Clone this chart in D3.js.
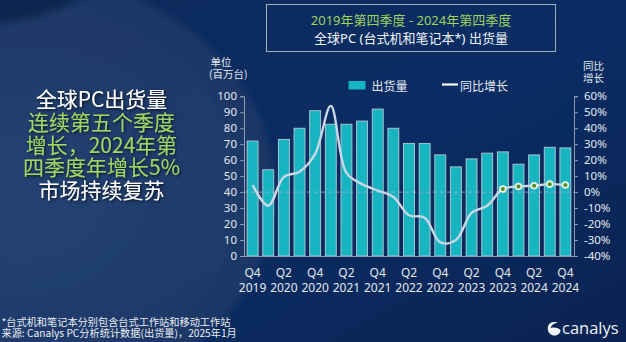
<!DOCTYPE html>
<html><head><meta charset="utf-8">
<script src="https://cdn.jsdelivr.net/npm/d3@7/dist/d3.min.js"></script>
<style>
html,body{margin:0;padding:0;background:#0b2a5c;}
svg{display:block;font-family:"Noto Sans","Noto Sans CJK SC",sans-serif;}
</style></head>
<body>
<svg id="c" width="626" height="342"></svg>
<script>
const quarters = ["Q4 2019","Q1 2020","Q2 2020","Q3 2020","Q4 2020","Q1 2021","Q2 2021","Q3 2021","Q4 2021","Q1 2022","Q2 2022","Q3 2022","Q4 2022","Q1 2023","Q2 2023","Q3 2023","Q4 2023","Q1 2024","Q2 2024","Q3 2024","Q4 2024"];
const shipments = [72, 54, 73, 80, 91, 82.5, 82.5, 84.5, 92, 80, 70.5, 70.5, 63.3, 55.8, 60.8, 64.4, 65.2, 57.5, 63.3, 68.1, 67.7];
const yoyGrowth = [4.5, -8.5, 9.5, 12.8, 24, 54, 12, 5, 1, -3, -14.5, -16, -31.5, -30, -13, -8.5, 2, 3.5, 4, 5, 4.5];
const markedFrom = 16;
const leftTicks = [0,10,20,30,40,50,60,70,80,90,100];
const rightTicks = [-40,-30,-20,-10,0,10,20,30,40,50,60];
const xLabelIdx = [0,2,4,6,8,10,12,14,16,18,20];
const titleLines = ["2019年第四季度 - 2024年第四季度","全球PC (台式机和笔记本*) 出货量"];
const headline = [["全球PC出货量","w"],["连续第五个季度","g"],["增长，2024年第","g"],["四季度年增长5%","g"],["市场持续复苏","w"]];
const footnotes = ["*台式机和笔记本分别包含台式工作站和移动工作站","来源: Canalys PC分析统计数据(出货量)，2025年1月"];

const svg = d3.select("#c");
const defs = svg.append("defs");
const bg = defs.append("linearGradient").attr("id","bg").attr("x1","0").attr("y1","0").attr("x2","1").attr("y2","1");
bg.append("stop").attr("offset","0").attr("stop-color","#0d2a5a");
bg.append("stop").attr("offset","0.5").attr("stop-color","#0b2d64");
bg.append("stop").attr("offset","1").attr("stop-color","#0a2352");
const lg = defs.append("radialGradient").attr("id","lg").attr("cx","0.5").attr("cy","0.5").attr("r","0.5");
lg.append("stop").attr("offset","0").attr("stop-color","#2c4a7a");
lg.append("stop").attr("offset","0.85").attr("stop-color","#253f6c");
lg.append("stop").attr("offset","1").attr("stop-color","#1f3a68");
const sh = defs.append("filter").attr("id","sh").attr("x","-20%").attr("y","-20%").attr("width","140%").attr("height","140%");
sh.append("feDropShadow").attr("dx",1).attr("dy",1).attr("stdDeviation",1.5).attr("flood-color","#000").attr("flood-opacity",0.8);
const blur = defs.append("filter").attr("id","bl").attr("x","-20%").attr("y","-20%").attr("width","140%").attr("height","140%");
blur.append("feGaussianBlur").attr("stdDeviation",3);

svg.append("rect").attr("width",626).attr("height",342).attr("fill","url(#bg)");
// decorative light shape on the left
svg.append("ellipse").attr("cx",20).attr("cy",190).attr("rx",255).attr("ry",215)
  .attr("fill","url(#lg)").attr("opacity",0.75).attr("filter","url(#bl)");
svg.append("ellipse").attr("cx",-30).attr("cy",-60).attr("rx",150).attr("ry",85)
  .attr("fill","#0c2550").attr("filter","url(#bl)");

// title box
svg.append("rect").attr("x",266.5).attr("y",4.5).attr("width",289).attr("height",47)
  .attr("fill","none").attr("stroke","#9fb2b4").attr("stroke-width",1);
svg.append("text").attr("x",411).attr("y",24.5).attr("text-anchor","middle").attr("font-size",13)
  .attr("fill","#9fd35f").text(titleLines[0]);
svg.append("text").attr("x",411).attr("y",42.5).attr("text-anchor","middle").attr("font-size",13)
  .attr("fill","#f2f5f8").text(titleLines[1]);

// headline text
const hg = svg.append("g").attr("filter","url(#sh)");
headline.forEach((d,i)=>{
  hg.append("text").attr("x",101.5).attr("y",107+i*22.8).attr("text-anchor","middle")
    .attr("font-family","'Noto Sans CJK SC',sans-serif").attr("font-size",21).attr("font-weight",400)
    .attr("fill", d[1]==="g" ? "#9fd562" : "#ffffff").text(d[0]);
});

// scales
const x = d3.scaleBand().domain(quarters).range([244,574]).paddingInner(0.3).paddingOuter(0.2);
const yL = d3.scaleLinear().domain([0,100]).range([256,96.3]);
const yR = d3.scaleLinear().domain([-40,60]).range([256,96.3]);

// bars
svg.append("g").selectAll("rect").data(shipments).join("rect")
  .attr("x",(d,i)=>x(quarters[i])).attr("width",x.bandwidth())
  .attr("y",d=>yL(d)).attr("height",d=>yL(0)-yL(d))
  .attr("fill","#17b4c2").attr("stroke","#b7c9d2").attr("stroke-width",0.9);

// zero line dashed
svg.append("line").attr("x1",244).attr("x2",574).attr("y1",yR(0)).attr("y2",yR(0))
  .attr("stroke","#9fb0bc").attr("stroke-width",1).attr("stroke-dasharray","4,3").attr("opacity",0.8);

// axes
const axisColor = "#8c9cac";
const gL = svg.append("g").attr("transform","translate(244,0)")
  .call(d3.axisLeft(yL).tickValues(leftTicks).tickSize(4).tickPadding(3));
const gR = svg.append("g").attr("transform","translate(574,0)")
  .call(d3.axisRight(yR).tickValues(rightTicks).tickSize(4).tickPadding(7).tickFormat(d=>d+"%"));
[gL,gR].forEach(g=>{
  g.selectAll("path,line").attr("stroke",axisColor);
  g.selectAll("text").attr("fill","#e3e8ee").attr("font-size",11.5).attr("font-family","'Noto Sans',sans-serif");
});
gR.selectAll("text").attr("dx",-1);
svg.append("line").attr("x1",244).attr("x2",574).attr("y1",256.5).attr("y2",256.5)
  .attr("stroke",axisColor).attr("stroke-width",1.2);

// x labels
const xl = svg.append("g");
xLabelIdx.forEach(i=>{
  const cx = x(quarters[i]) + x.bandwidth()/2;
  const parts = quarters[i].split(" ");
  xl.append("text").attr("x",cx).attr("y",276.5).attr("text-anchor","middle").attr("font-size",12)
    .attr("fill","#e3e8ee").text(parts[0]);
  xl.append("text").attr("x",cx).attr("y",291.5).attr("text-anchor","middle").attr("font-size",12)
    .attr("fill","#e3e8ee").text(parts[1]);
});

// growth line
const line = d3.line().x((d,i)=>x(quarters[i])+x.bandwidth()/2).y(d=>yR(d)).curve(d3.curveCatmullRom.alpha(0.5));
svg.append("path").datum(yoyGrowth).attr("d",line).attr("fill","none")
  .attr("stroke","#c9d7e6").attr("stroke-width",2.4);
const mk = svg.append("g");
yoyGrowth.forEach((d,i)=>{
  if(i<markedFrom) return;
  const cx = x(quarters[i])+x.bandwidth()/2;
  mk.append("circle").attr("cx",cx).attr("cy",yR(d)).attr("r",3.8).attr("fill","#e9f0e4");
  mk.append("circle").attr("cx",cx).attr("cy",yR(d)).attr("r",2).attr("fill","#4f8f26");
});

// unit labels
const unitStyle = t=>t.attr("font-size",10.5).attr("fill","#e3e8ee").attr("font-family","'Noto Sans CJK SC',sans-serif");
unitStyle(svg.append("text").attr("x",210.5).attr("y",65.5).text("单位"));
unitStyle(svg.append("text").attr("x",209).attr("y",78).text("(百万台)"));
unitStyle(svg.append("text").attr("x",583).attr("y",69.5).text("同比"));
unitStyle(svg.append("text").attr("x",583).attr("y",82).text("增长"));

// legend
svg.append("rect").attr("x",348.5).attr("y",81).attr("width",17).attr("height",8.5).attr("fill","#17b4c2");
svg.append("text").attr("x",371.5).attr("y",90.5).attr("font-size",12).attr("fill","#e3e8ee")
  .attr("font-family","'Noto Sans CJK SC',sans-serif").text("出货量");
svg.append("line").attr("x1",442).attr("x2",458).attr("y1",84.5).attr("y2",84.5).attr("stroke","#ffffff").attr("stroke-width",2.2);
svg.append("text").attr("x",460).attr("y",90.5).attr("font-size",12).attr("fill","#e3e8ee")
  .attr("font-family","'Noto Sans CJK SC',sans-serif").text("同比增长");

// footnotes
footnotes.forEach((t,i)=>{
  svg.append("text").attr("x",1.5).attr("y",326+i*11.2).attr("font-size",10.2).attr("fill","#e8edf2")
    .attr("font-family","'Noto Sans CJK SC',sans-serif").text(t);
});

// logo
svg.append("path").attr("d","M554,322 C549,322 547.5,326 547.8,329 C548.2,333 551,335.5 554.5,335.5 C558,335.5 560.5,333 560.5,330 C557,327 552,327 550.5,328.5 C551.5,325 554,323 558,322.8 C557,322.2 555.5,322 554,322 Z")
  .attr("fill","#f2f5f8");
svg.append("text").attr("x",562).attr("y",333.5).attr("font-size",16.5).attr("fill","#eef2f6")
  .attr("font-family","'Open Sans',sans-serif").text("canalys");
</script>
</body></html>
